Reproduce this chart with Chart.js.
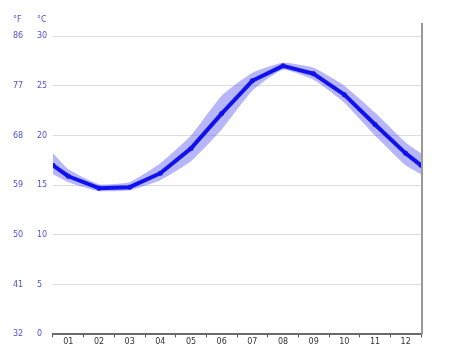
<!DOCTYPE html>
<html><head><meta charset="utf-8">
<script src="https://cdn.jsdelivr.net/npm/chart.js@4"></script>
<style>html,body{margin:0;padding:0;background:#fff}#wrap{width:474px;height:355px}</style>
</head><body><div id="wrap"><canvas id="c" width="474" height="355"></canvas></div>
<script>
const months = ['01','02','03','04','05','06','07','08','09','10','11','12'];
const meanC = [15.9, 14.7, 14.8, 16.2, 18.7, 22.2, 25.5, 27.0, 26.2, 24.1, 21.1, 18.2];
const highC = [16.6, 15.1, 15.3, 17.2, 20.0, 24.0, 26.3, 27.3, 26.8, 25.0, 22.3, 19.3];
const lowC  = [15.3, 14.4, 14.5, 15.5, 17.4, 20.6, 24.5, 26.6, 25.6, 23.3, 20.0, 17.0];
const edgeMean = 17.0, edgeHigh = 18.2, edgeLow = 16.1;
const cTicks = [0, 5, 10, 15, 20, 25, 30];
const fTicks = [32, 41, 50, 59, 68, 77, 86];

function withEdges(arr, edge){
  const pts = [{x:0, y:edge}];
  arr.forEach((v,i)=>pts.push({x:i+0.5, y:v}));
  pts.push({x:12, y:edge});
  return pts;
}
const blue = '#1111ee';
const labelBlue = '#5050d0';

const overlay = {
  id:'overlay',
  afterDraw(chart){
    const ctx = chart.ctx, a = chart.chartArea;
    ctx.save();
    ctx.strokeStyle = '#999999'; ctx.lineWidth = 2;
    ctx.beginPath(); ctx.moveTo(a.right+1, 23); ctx.lineTo(a.right+1, a.bottom); ctx.stroke();
    ctx.fillStyle = labelBlue; ctx.font = '8px "DejaVu Sans"'; ctx.textBaseline='middle'; ctx.textAlign='left';
    ctx.fillText('°F', 13, 20);
    ctx.fillText('°C', 37, 20);
    ctx.restore();
  }
};

new Chart(document.getElementById('c'), {
  type:'line',
  data:{
    labels: months,
    datasets:[
      {data: withEdges(meanC, edgeMean), xAxisID:'x2', yAxisID:'y', borderColor: blue, backgroundColor: blue,
       borderWidth:4, pointRadius:2.5, pointBorderWidth:0, tension:0, order:0, borderJoinStyle:'round'},
      {data: withEdges(highC, edgeHigh), xAxisID:'x2', yAxisID:'y', borderColor:'rgba(0,0,0,0)', pointRadius:0,
       fill:'+1', backgroundColor:'rgba(80,80,240,0.42)', tension:0.15, order:1},
      {data: withEdges(lowC, edgeLow), xAxisID:'x2', yAxisID:'y', borderColor:'rgba(0,0,0,0)', pointRadius:0,
       fill:false, tension:0.15, order:1}
    ]
  },
  options:{
    responsive:false, animation:false,
    layout:{padding:{top:36, right:53, left:13, bottom:8}},
    plugins:{legend:{display:false}, tooltip:{enabled:false}},
    scales:{
      x:{type:'category', position:'bottom', offset:true,
         grid:{offset:true, drawOnChartArea:false, drawTicks:true, tickLength:3, color:'#555555'},
         border:{display:true, color:'#6a6a6a', width:2},
         ticks:{color:'#333333', font:{size:8, family:'"DejaVu Sans"'}, padding:0, maxRotation:0}},
      x2:{type:'linear', min:0, max:12, display:false},
      yF:{type:'linear', position:'left', min:32, max:86, weight:1,
          afterBuildTicks(s){ s.ticks = fTicks.map(v=>({value:v})); },
          grid:{display:false, drawTicks:false}, border:{display:false},
          ticks:{color:labelBlue, font:{size:8, family:'"DejaVu Sans"'}, crossAlign:'far', padding:0},
          afterFit(s){ s.width = 24; }},
      y:{type:'linear', position:'left', min:0, max:30, weight:0,
         afterBuildTicks(s){ s.ticks = cTicks.map(v=>({value:v})); },
         grid:{color:'#dddddd', drawTicks:false, lineWidth:1}, border:{display:false},
         ticks:{color:labelBlue, font:{size:8, family:'"DejaVu Sans"'}, crossAlign:'far', padding:0},
         afterFit(s){ s.width = 16; }}
    }
  },
  plugins:[overlay]
});
</script>
</body></html>
